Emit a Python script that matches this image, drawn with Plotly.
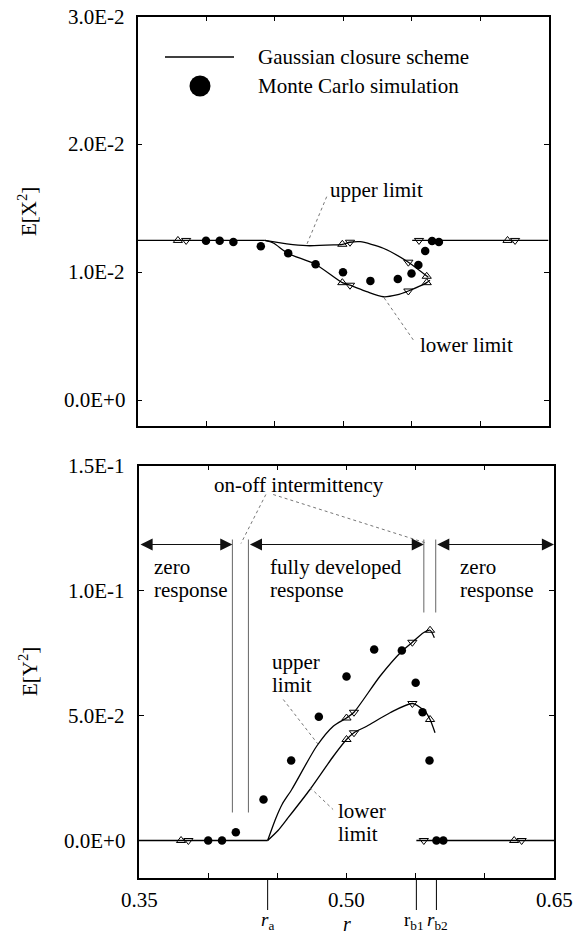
import plotly.graph_objects as go

# ---------------- data ----------------
r_mc = [0.40, 0.41, 0.42, 0.44, 0.46, 0.48, 0.50, 0.52, 0.54, 0.55, 0.555, 0.56, 0.565, 0.57]
ex2_mc = [0.01248, 0.01248, 0.01237, 0.01205, 0.0115, 0.01064, 0.01002, 0.00934,
          0.00949, 0.00991, 0.01059, 0.01168, 0.01246, 0.01238]
ey2_mc = [0.0, 0.0, 0.0033, 0.0164, 0.032, 0.0495, 0.0656, 0.0764,
          0.076, 0.0631, 0.0513, 0.032, 0.0, 0.0]

r_a = 0.443
r_b1 = 0.5505
r_b2 = 0.565
r_min, r_max = 0.35, 0.65
ex2_zero = 0.0125
ey2_zero = 0.0

# Gaussian closure, top panel
r_x_up = [0.443, 0.459, 0.4735, 0.493, 0.4995, 0.5051, 0.5125, 0.5294, 0.5477, 0.5623]
ex2_up = [0.0125, 0.01223, 0.01209, 0.01215, 0.0122, 0.01236, 0.0124, 0.01189, 0.0108, 0.00962]
r_x_lo = [0.443, 0.4491, 0.4596, 0.4798, 0.4995, 0.5051, 0.5173, 0.5294, 0.5392, 0.5477, 0.5611, 0.5635]
ex2_lo = [0.0125, 0.0123, 0.0115, 0.01064, 0.0092, 0.0090, 0.0085, 0.0081, 0.00824, 0.00855, 0.0092, 0.0094]

# Gaussian closure, bottom panel
r_y_up = [0.443, 0.449, 0.4535, 0.4604, 0.4784, 0.4904, 0.50, 0.5054, 0.5242, 0.54, 0.5476, 0.5556, 0.5604, 0.5635]
ey2_up = [0.0, 0.009, 0.0145, 0.0204, 0.0377, 0.0457, 0.049, 0.0513, 0.0657, 0.0757, 0.0793, 0.0831, 0.0841, 0.0811]
r_y_lo = [0.443, 0.4505, 0.4568, 0.4736, 0.4905, 0.50, 0.5054, 0.5146, 0.5315, 0.5476, 0.5567, 0.5604, 0.564]
ey2_lo = [0.0, 0.004, 0.0084, 0.0204, 0.0337, 0.0404, 0.0431, 0.0457, 0.0511, 0.0548, 0.0517, 0.0484, 0.0431]

# open triangle markers
tri_up_x_top = [0.3795, 0.4995, 0.4995, 0.5611, 0.5611, 0.6201]
tri_up_y_top = [0.0125, 0.0122, 0.0092, 0.0097, 0.0092, 0.0125]
tri_dn_x_top = [0.3855, 0.5051, 0.5051, 0.5477, 0.5477, 0.5555, 0.6256]
tri_dn_y_top = [0.0125, 0.01236, 0.0090, 0.0108, 0.00855, 0.0125, 0.0125]

tri_up_x_bot = [0.3804, 0.50, 0.50, 0.5604, 0.5604, 0.6212]
tri_up_y_bot = [0.0, 0.049, 0.0404, 0.0841, 0.0484, 0.0]
tri_dn_x_bot = [0.3857, 0.5054, 0.5054, 0.5476, 0.5476, 0.5559, 0.6266]
tri_dn_y_bot = [0.0, 0.0513, 0.0431, 0.0793, 0.0548, 0.0, 0.0]

# regions (bottom panel)
onoff_left = [0.4175, 0.4291]
onoff_right = [0.5559, 0.5645]

x_ticks = [0.35, 0.40, 0.45, 0.50, 0.55, 0.60, 0.65]
x_label_vals = [0.35, 0.50, 0.65]
x_label_text = ["0.35", "0.50", "0.65"]
y1_ticks = [0.0, 0.01, 0.02, 0.03]
y1_ticktext = ["0.0E+0", "1.0E-2", "2.0E-2", "3.0E-2"]
y2_ticks = [0.0, 0.05, 0.10, 0.15]
y2_ticktext = ["0.0E+0", "5.0E-2", "1.0E-1", "1.5E-1"]

# ---------------- figure ----------------
W, H = 582, 936
FONT = "Liberation Serif"
FS = 21

def px(x):
    return x / W

def py(y):
    return 1 - y / H

fig = go.Figure()

line_style = dict(color="black", width=1.3)
mc_marker = dict(symbol="circle", size=8.5, color="black")
up_marker = dict(symbol="triangle-up-open", size=8, color="black", line=dict(width=1))
dn_marker = dict(symbol="triangle-down-open", size=8, color="black", line=dict(width=1))

for xa, ya, zero, xu, yu, xl, yl, ymc, tux, tuy, tdx, tdy in [
    ("x", "y", ex2_zero, r_x_up, ex2_up, r_x_lo, ex2_lo, ex2_mc,
     tri_up_x_top, tri_up_y_top, tri_dn_x_top, tri_dn_y_top),
    ("x2", "y2", ey2_zero, r_y_up, ey2_up, r_y_lo, ey2_lo, ey2_mc,
     tri_up_x_bot, tri_up_y_bot, tri_dn_x_bot, tri_dn_y_bot),
]:
    fig.add_trace(go.Scatter(x=[r_min, r_a], y=[zero, zero], mode="lines",
                             line=line_style, xaxis=xa, yaxis=ya, showlegend=False))
    fig.add_trace(go.Scatter(x=[r_b1, r_max], y=[zero, zero], mode="lines",
                             line=line_style, xaxis=xa, yaxis=ya, showlegend=False))
    fig.add_trace(go.Scatter(x=xu, y=yu, mode="lines", line=dict(line_style, shape="spline", smoothing=0.7),
                             xaxis=xa, yaxis=ya, showlegend=False))
    fig.add_trace(go.Scatter(x=xl, y=yl, mode="lines", line=dict(line_style, shape="spline", smoothing=0.7),
                             xaxis=xa, yaxis=ya, showlegend=False))
    fig.add_trace(go.Scatter(x=tux, y=tuy, mode="markers", marker=up_marker,
                             xaxis=xa, yaxis=ya, showlegend=False))
    fig.add_trace(go.Scatter(x=tdx, y=tdy, mode="markers", marker=dn_marker,
                             xaxis=xa, yaxis=ya, showlegend=False))
    fig.add_trace(go.Scatter(x=r_mc, y=ymc, mode="markers", marker=mc_marker,
                             xaxis=xa, yaxis=ya, showlegend=False))

axis_common = dict(showline=True, linecolor="black", linewidth=1.5, mirror="ticks",
                   ticks="inside", ticklen=5, tickwidth=1.2, tickcolor="black",
                   showgrid=False, zeroline=False, showticklabels=False, automargin=False)

fig.update_layout(
    width=W, height=H, margin=dict(l=0, r=0, t=0, b=0, autoexpand=False),
    paper_bgcolor="white", plot_bgcolor="white",
    font=dict(family=FONT, size=FS, color="black"),
    showlegend=False,
    xaxis=dict(axis_common, domain=[px(137.5), px(548.5)], range=[r_min, r_max],
               tickvals=x_ticks, anchor="y"),
    yaxis=dict(axis_common, domain=[py(426), py(16.5)], range=[-0.002, 0.03],
               tickvals=y1_ticks, anchor="x"),
    xaxis2=dict(axis_common, domain=[px(139), px(554)], range=[r_min, r_max],
                tickvals=x_ticks, anchor="y2"),
    yaxis2=dict(axis_common, domain=[py(878), py(465.5)], range=[-0.015, 0.15],
                tickvals=y2_ticks, anchor="x2"),
)

shapes = []
ann = []
lead = dict(color="#777", width=1, dash="dot")

# tick labels
for v, t in zip(y1_ticks, y1_ticktext):
    ann.append(dict(xref="paper", yref="y", x=px(127), y=v, text=t, showarrow=False,
                    xanchor="right", yanchor="middle"))
for v, t in zip(y2_ticks, y2_ticktext):
    ann.append(dict(xref="paper", yref="y2", x=px(127), y=v, text=t, showarrow=False,
                    xanchor="right", yanchor="middle"))
for v, t in zip(x_label_vals, x_label_text):
    ann.append(dict(xref="x2", yref="paper", x=v, y=py(900), text=t, showarrow=False,
                    xanchor="center", yanchor="middle"))

# legend
shapes.append(dict(type="line", xref="paper", yref="paper", x0=px(165), x1=px(234),
                   y0=py(57), y1=py(57), line=dict(color="black", width=1.3)))
shapes.append(dict(type="circle", xref="paper", yref="paper", x0=px(189.5), x1=px(210.5),
                   y0=py(96.5), y1=py(75.5), fillcolor="black", line=dict(color="black", width=0)))
ann.append(dict(xref="paper", yref="paper", x=px(256), y=py(57), text="Gaussian closure scheme",
                showarrow=False, xanchor="left", yanchor="middle"))
ann.append(dict(xref="paper", yref="paper", x=px(256), y=py(86), text="Monte Carlo simulation",
                showarrow=False, xanchor="left", yanchor="middle"))

# top panel labels
ann.append(dict(xref="x", yref="y", x=0.5241, y=0.01645, text="upper limit", showarrow=False,
                xanchor="center", yanchor="middle"))
shapes.append(dict(type="line", xref="x", yref="y", x0=0.4881, y0=0.01592, x1=0.4735, y1=0.01217, line=lead))
ann.append(dict(xref="x", yref="y", x=0.5905, y=0.00434, text="lower limit", showarrow=False,
                xanchor="center", yanchor="middle"))
shapes.append(dict(type="line", xref="x", yref="y", x0=0.5513, y0=0.00473, x1=0.5294, y1=0.00811, line=lead))

# bottom panel: region lines
for xv in onoff_left:
    shapes.append(dict(type="line", xref="x2", yref="y2", x0=xv, x1=xv, y0=0.0112, y1=0.1204,
                       line=dict(color="#666", width=1)))
for xv in onoff_right:
    shapes.append(dict(type="line", xref="x2", yref="y2", x0=xv, x1=xv, y0=0.0912, y1=0.1204,
                       line=dict(color="#666", width=1)))

arrow_y = 0.1184
for x0, x1 in [(r_min, onoff_left[0]), (onoff_left[1], onoff_right[0]), (onoff_right[1], r_max)]:
    ann.append(dict(xref="x2", yref="y2", axref="x2", ayref="y2", x=x1, y=arrow_y, ax=x0, ay=arrow_y,
                    text="", showarrow=True, arrowhead=2, startarrowhead=2, arrowside="end+start",
                    arrowsize=2.2, startarrowsize=2.2, arrowwidth=1.1, arrowcolor="#111",
                    standoff=0, startstandoff=0))

def two_lines(x, y1, y2, t1, t2, anchor="left"):
    ann.append(dict(xref="x2", yref="paper", x=x, y=py(y1), text=t1, showarrow=False,
                    xanchor=anchor, yanchor="middle"))
    ann.append(dict(xref="x2", yref="paper", x=x, y=py(y2), text=t2, showarrow=False,
                    xanchor=anchor, yanchor="middle"))

two_lines(0.3594, 567, 590, "zero", "response")
two_lines(0.4436, 567, 590, "fully developed", "response")
two_lines(0.5806, 567, 590, "zero", "response")
ann.append(dict(xref="x2", yref="paper", x=0.4657, y=py(485), text="on-off intermittency",
                showarrow=False, xanchor="center", yanchor="middle"))
shapes.append(dict(type="line", xref="x2", yref="y2", x0=0.4417, y0=0.1384, x1=0.4237, y1=0.1188, line=lead))
shapes.append(dict(type="line", xref="x2", yref="y2", x0=0.447, y0=0.1384, x1=0.5586, y1=0.1188, line=lead))

two_lines(0.4447, 662, 685, "upper", "limit")
shapes.append(dict(type="line", xref="x2", yref="y2", x0=0.4543, y0=0.0564, x1=0.4796, y1=0.0384, line=lead))
two_lines(0.4924, 811, 834, "lower", "limit")
shapes.append(dict(type="line", xref="x2", yref="y2", x0=0.4736, y0=0.0212, x1=0.4903, y1=0.0124, line=lead))

# r markers below axis
for xv in [r_a, r_b1, r_b2]:
    shapes.append(dict(type="line", xref="x2", yref="paper", x0=xv, x1=xv, y0=py(878), y1=py(910),
                       line=dict(color="black", width=1)))
ann.append(dict(xref="x2", yref="paper", x=r_a, y=py(921), text="<i>r</i><sub>a</sub>",
                showarrow=False, xanchor="center", yanchor="middle", font=dict(size=19)))
ann.append(dict(xref="x2", yref="paper", x=0.50, y=py(924), text="<i>r</i>",
                showarrow=False, xanchor="center", yanchor="middle", font=dict(size=20)))
ann.append(dict(xref="x2", yref="paper", x=r_b1 - 0.002, y=py(921), text="r<sub>b1</sub>",
                showarrow=False, xanchor="center", yanchor="middle", font=dict(size=19)))
ann.append(dict(xref="x2", yref="paper", x=r_b2 + 0.001, y=py(921), text="<i>r</i><sub>b2</sub>",
                showarrow=False, xanchor="center", yanchor="middle", font=dict(size=19)))

# y axis titles
ann.append(dict(xref="paper", yref="paper", x=px(28), y=py(212), text="E[X<sup>2</sup>]",
                showarrow=False, textangle=-90, xanchor="center", yanchor="middle"))
ann.append(dict(xref="paper", yref="paper", x=px(28), y=py(672), text="E[Y<sup>2</sup>]",
                showarrow=False, textangle=-90, xanchor="center", yanchor="middle"))

fig.update_layout(shapes=shapes, annotations=ann)
fig.write_html("out.html")
